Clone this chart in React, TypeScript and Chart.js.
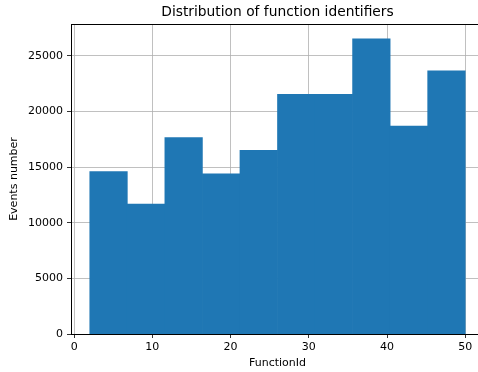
import React, { useEffect, useRef } from "react";
import { Chart, registerables } from "chart.js";

Chart.register(...registerables);

const binEdges = [2, 6.8, 11.6, 16.4, 21.2, 26, 30.8, 35.6, 40.4, 45.2, 50];
const counts = [14600, 11680, 17650, 14390, 16490, 21530, 21530, 26520, 18690, 23640];
const xTicks = [0, 10, 20, 30, 40, 50];
const yTicks = [0, 5000, 10000, 15000, 20000, 25000];
const titleText = "Distribution of function identifiers";
const xLabel = "FunctionId";
const yLabel = "Events number";

const FONT = "'DejaVu Sans', sans-serif";

export default function App() {
  const ref = useRef<HTMLCanvasElement>(null);
  useEffect(() => {
    document.body.style.margin = "0";
    document.body.style.overflow = "hidden";
    const data = counts.map((c, i) => ({ x: (binEdges[i] + binEdges[i + 1]) / 2, y: c }));
    const frame = {
      id: "frame",
      afterDraw(chart: any) {
        const { ctx, chartArea } = chart;
        ctx.save();
        ctx.strokeStyle = "#000";
        ctx.lineWidth = 1;
        ctx.beginPath();
        ctx.moveTo(chartArea.left, chartArea.top + 0.5);
        ctx.lineTo(chartArea.right, chartArea.top + 0.5);
        ctx.stroke();
        ctx.fillStyle = "#000";
        ctx.font = `13.8px ${FONT}`;
        ctx.textAlign = "center";
        ctx.textBaseline = "middle";
        ctx.fillText(titleText, (chartArea.left + chartArea.right) / 2, 12);
        ctx.restore();
      },
    };
    const chart = new Chart(ref.current!, {
      type: "bar",
      data: {
        datasets: [
          {
            data,
            backgroundColor: "#1f77b4",
            borderWidth: 0,
            barPercentage: 1,
            categoryPercentage: 1,
            grouped: false,
          } as any,
        ],
      },
      plugins: [frame],
      options: {
        animation: false,
        responsive: false,
        layout: { padding: { left: 0, right: 0, top: 24, bottom: 0 } },
        plugins: {
          legend: { display: false },
          tooltip: { enabled: false },
          title: { display: false },
        },
        scales: {
          x: {
            type: "linear",
            min: -0.4,
            max: 52.4,
            z: 1,
            offset: false,
            afterBuildTicks: (s: any) => {
              s.ticks = xTicks.map((v) => ({ value: v }));
            },
            afterFit: (s: any) => {
              s.height = 38;
            },
            grid: { offset: false, color: "#b0b0b0", lineWidth: 0.8, tickLength: 4, tickColor: "#000", drawOnChartArea: true },
            border: { color: "#000", width: 1 },
            ticks: { color: "#000", font: { family: FONT, size: 11 }, padding: 3, maxRotation: 0, callback: (v: any) => String(v) },
            title: {
              display: true,
              text: xLabel,
              color: "#000",
              font: { family: FONT, size: 11 },
              padding: { top: 1, bottom: 2 },
            },
          },
          y: {
            type: "linear",
            min: 0,
            max: 27850,
            z: 1,
            afterBuildTicks: (s: any) => {
              s.ticks = yTicks.map((v) => ({ value: v }));
            },
            afterFit: (s: any) => {
              s.width = 71;
            },
            grid: { color: "#b0b0b0", lineWidth: 0.8, tickLength: 4, tickColor: "#000" },
            border: { color: "#000", width: 1 },
            ticks: { color: "#000", font: { family: FONT, size: 11 }, padding: 4, callback: (v: any) => String(v) },
            title: {
              display: true,
              text: yLabel,
              color: "#000",
              font: { family: FONT, size: 11 },
              padding: { top: 8, bottom: 2 },
            },
          },
        },
      },
    } as any);
    return () => chart.destroy();
  }, []);
  return (
    <div style={{ width: 478, height: 372, overflow: "hidden" }}>
      <canvas ref={ref} width={484} height={372} style={{ width: 484, height: 372, display: "block" }} />
    </div>
  );
}
